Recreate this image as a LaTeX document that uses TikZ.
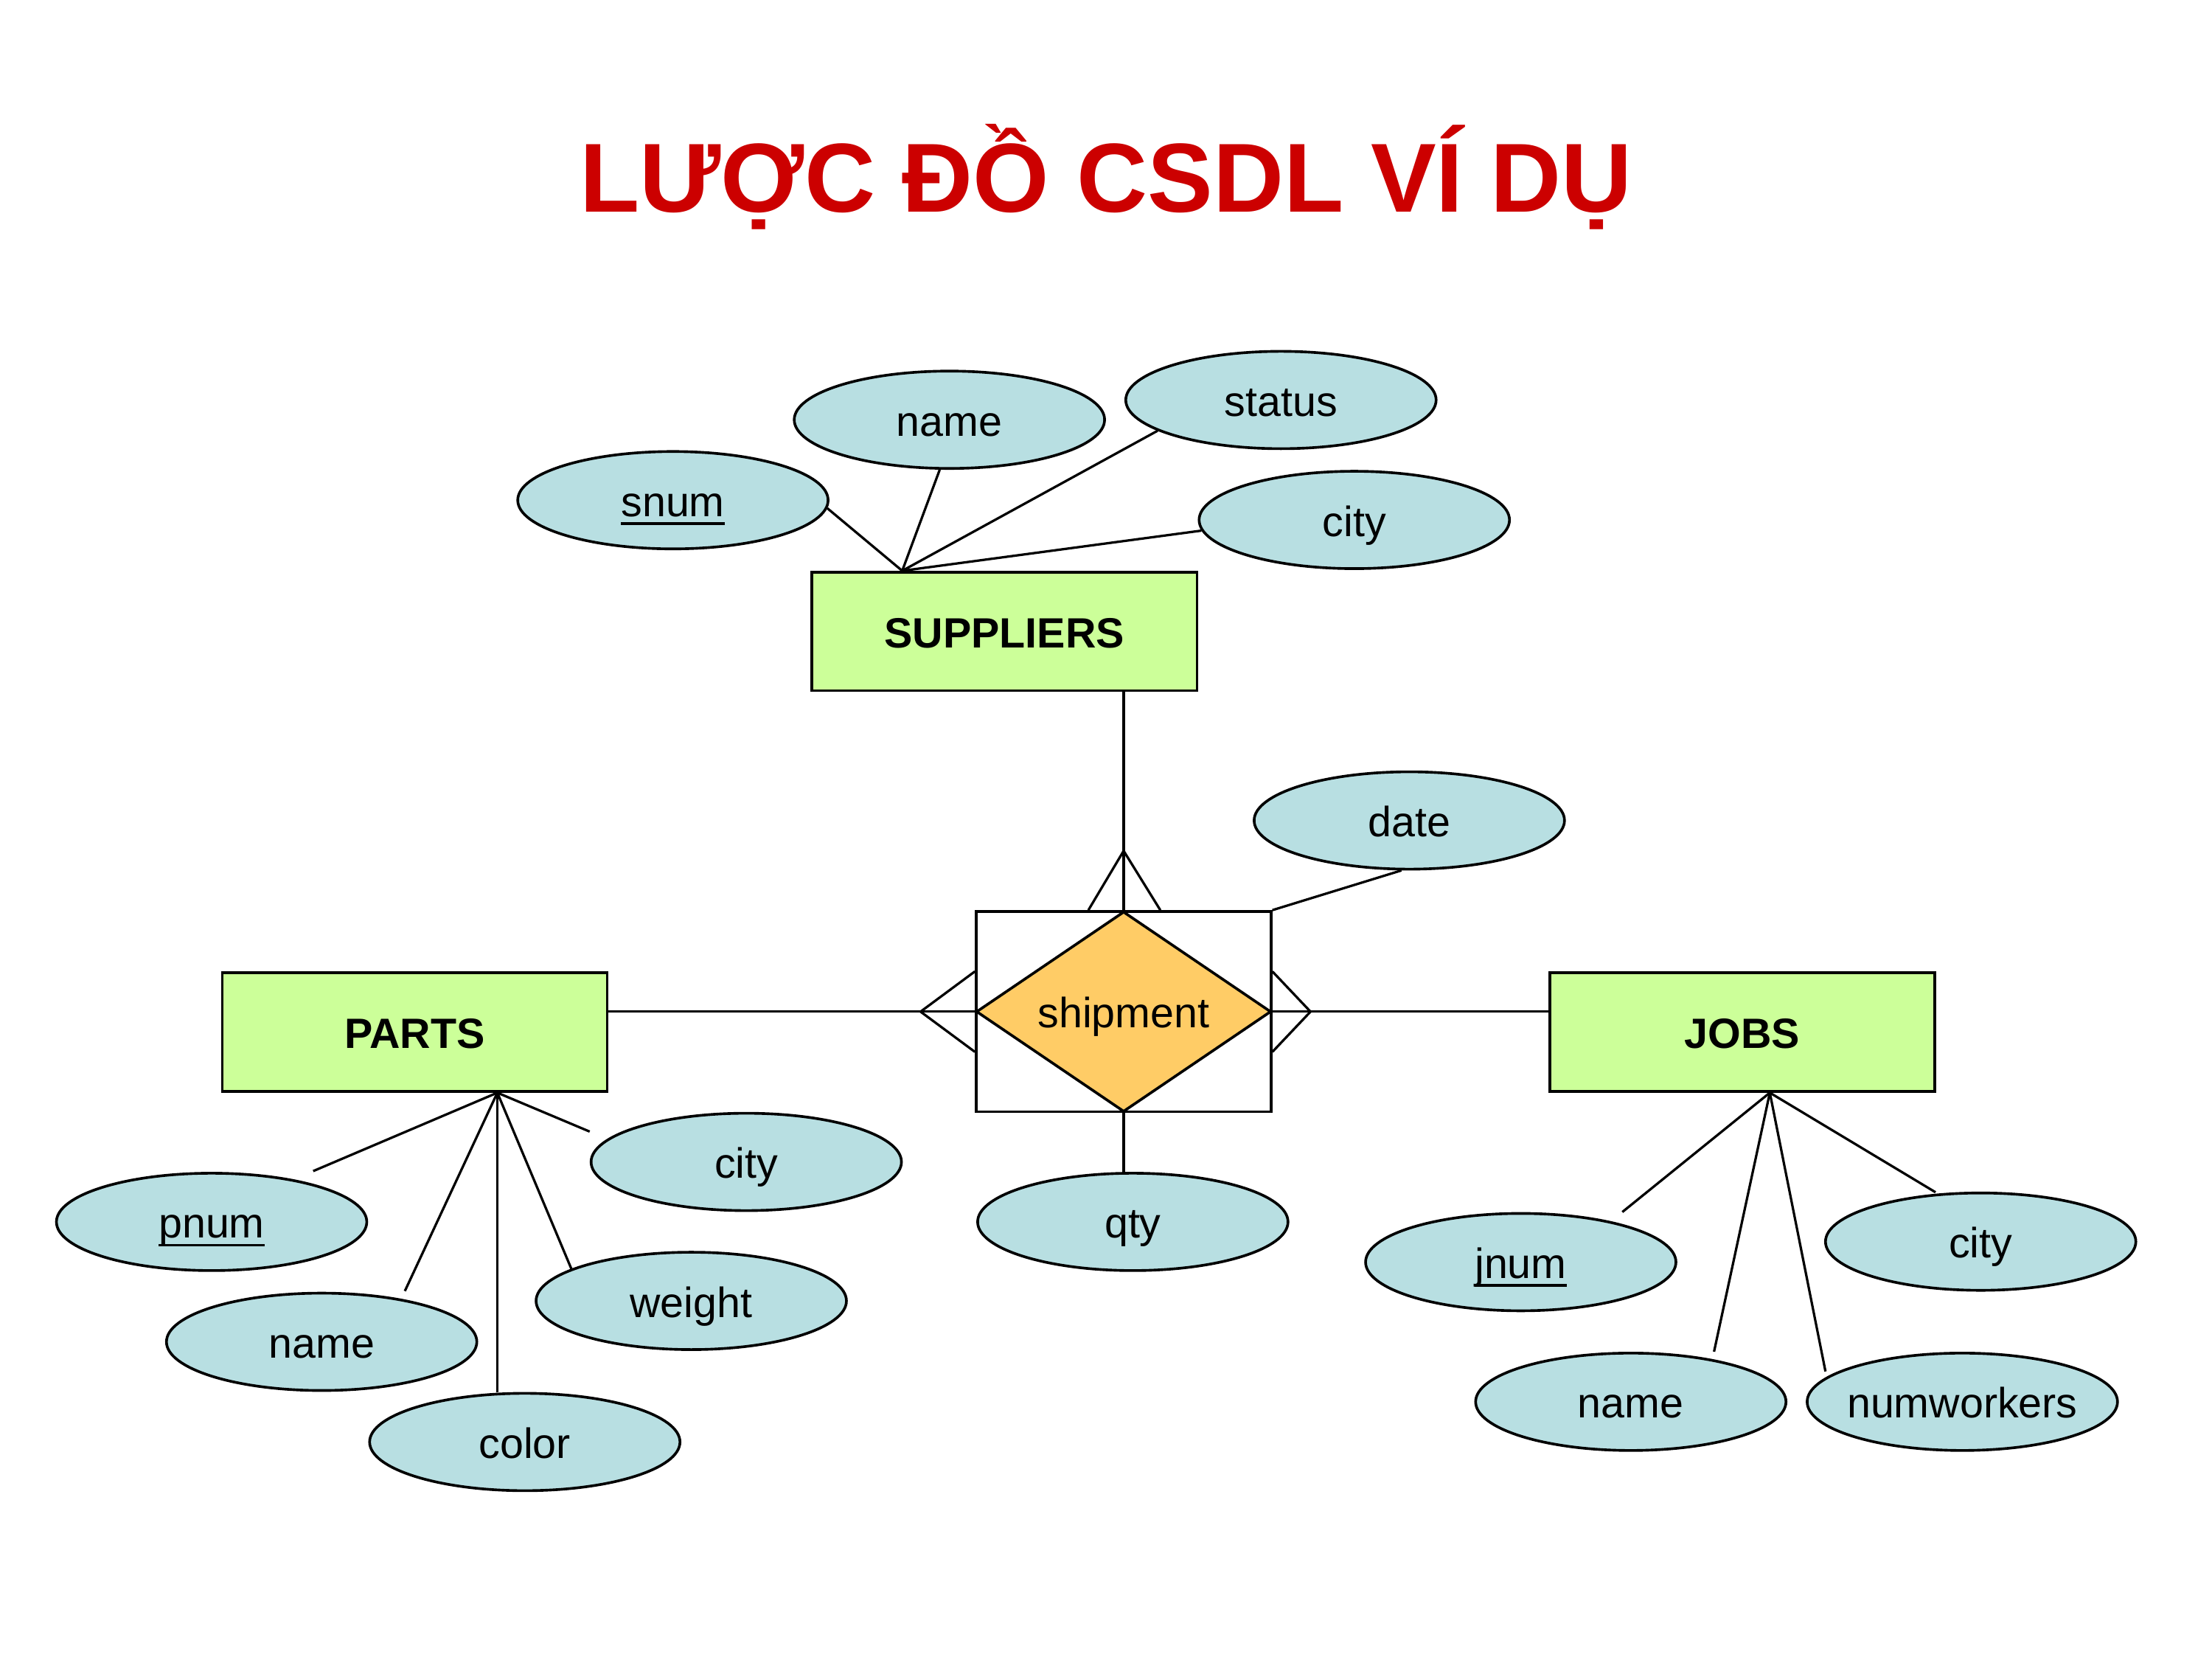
\documentclass[tikz,border=0pt]{standalone}
\usepackage{fontspec}
\setmainfont{Liberation Sans}
\usetikzlibrary{shapes.geometric}
\definecolor{attrfill}{HTML}{B8DFE2}
\definecolor{entfill}{HTML}{CCFF99}
\definecolor{relfill}{HTML}{FFCC66}
\definecolor{titlered}{HTML}{CC0000}
\newcommand\keyul[1]{\setbox0=\hbox{#1}\rlap{\box0}\setbox0=\hbox{#1}\rule[-6pt]{\wd0}{1.8pt}}
\begin{document}
\begin{tikzpicture}[x=1pt,y=-1pt,
  txt/.style={font=\fontsize{30}{36}\selectfont, text height=29pt, text depth=6pt},
  attr/.style={txt, ellipse, draw, fill=attrfill, line width=1.9pt,
    minimum width=220pt, minimum height=69pt, inner ysep=0pt, inner xsep=-30pt},
  entity/.style={txt, rectangle, draw, fill=entfill, line width=1.9pt,
    minimum width=273pt, minimum height=84pt, inner sep=0pt,
    font=\fontsize{30}{36}\selectfont\bfseries},
  relbox/.style={rectangle, draw, line width=1.9pt,
    minimum width=209pt, minimum height=142pt, inner sep=0pt},
  reldiam/.style={txt, diamond, draw, fill=relfill, line width=1.9pt, aspect=1.47,
    minimum width=209pt, minimum height=142pt, inner sep=0pt},
  link/.style={line width=1.7pt},
  titlestyle/.style={font=\fontsize{69.5}{80}\selectfont\bfseries,
    text=titlered, anchor=base, inner sep=0pt}]

\path[use as bounding box, fill=white] (0,0) rectangle (1568,1176);

% title
\node[titlestyle] (title) at (784,150) {LƯỢC ĐỒ CSDL VÍ DỤ};

% entities
\node[entity] (sup) at (712,447.5) {SUPPLIERS};
\node[entity] (parts) at (294,731.5) {PARTS};
\node[entity] (jobs) at (1235,731.5) {JOBS};

% relationship
\node[relbox] (shipbox) at (796.5,717) {};
\node[reldiam] (ship) at (796.5,717) {shipment};

% attributes
\node[attr] (snum) at (477,354.5) {\keyul{snum}};
\node[attr] (sname) at (673,297.5) {name};
\node[attr] (status) at (908,283.5) {status};
\node[attr] (scity) at (960,368.5) {city};
\node[attr] (date) at (999,581.5) {date};
\node[attr] (qty) at (803,866) {qty};
\node[attr] (pnum) at (150,866) {\keyul{pnum}};
\node[attr] (pname) at (228,951) {name};
\node[attr] (color) at (372,1022) {color};
\node[attr] (weight) at (490,922) {weight};
\node[attr] (pcity) at (529,823.5) {city};
\node[attr] (jnum) at (1078,894.5) {\keyul{jnum}};
\node[attr] (jname) at (1156,993.5) {name};
\node[attr] (numw) at (1391,993.5) {numworkers};
\node[attr] (jcity) at (1404,880) {city};

% crow's feet coordinates
\coordinate (topapex) at ([yshift=42pt]shipbox.north);
\coordinate (topfootL) at ([xshift=-25pt]shipbox.north);
\coordinate (topfootR) at ([xshift=26pt]shipbox.north);
\coordinate (leftapex) at ([xshift=-38.5pt]shipbox.west);
\coordinate (leftfootU) at ([yshift=28.5pt]shipbox.west);
\coordinate (leftfootD) at ([yshift=-28.5pt]shipbox.west);
\coordinate (rightapex) at ([xshift=27pt]shipbox.east);
\coordinate (rightfootU) at ([yshift=28.5pt]shipbox.east);
\coordinate (rightfootD) at ([yshift=-28.5pt]shipbox.east);

% relationship connectors
\draw[link] (topapex |- sup.south) -- (shipbox.north);
\draw[link] (topfootL) -- (topapex) -- (topfootR);
\draw[link] (parts.east |- shipbox.west) -- (shipbox.west);
\draw[link] (leftfootU) -- (leftapex) -- (leftfootD);
\draw[link] (shipbox.east) -- (jobs.west |- shipbox.east);
\draw[link] (rightfootU) -- (rightapex) -- (rightfootD);
\draw[link] (shipbox.north east) -- (date.-99);
\draw[link] (shipbox.south) -- (shipbox.south |- qty.north);

% supplier attributes
\coordinate (s0) at ([xshift=65pt]sup.north west);
\draw[link] (s0) -- (snum.-3);
\draw[link] (s0) -- (sname.-101);
\draw[link] (s0) -- (status.-166);
\draw[link] (s0) -- (scity.-176);

% parts attributes
\coordinate (p0) at ([xshift=196pt]parts.south west);
\coordinate (pnumE) at (222,830);
\coordinate (pnameE) at (287,915);
\coordinate (pcityE) at (418,802);
\draw[link] (p0) -- (pnumE);
\draw[link] (p0) -- (pnameE);
\draw[link] (p0) -- (p0 |- color.north);
\draw[link] (p0) -- (weight.165);
\draw[link] (p0) -- (pcityE);

% jobs attributes
\coordinate (j0) at ([xshift=157pt]jobs.south west);
\coordinate (jnumE) at (1150,859);
\coordinate (jnameE) at (1215,958);
\coordinate (numwE) at (1294,972);
\coordinate (jcityE) at (1372,845);
\draw[link] (j0) -- (jnumE);
\draw[link] (j0) -- (jnameE);
\draw[link] (j0) -- (numwE);
\draw[link] (j0) -- (jcityE);
\end{tikzpicture}
\end{document}
